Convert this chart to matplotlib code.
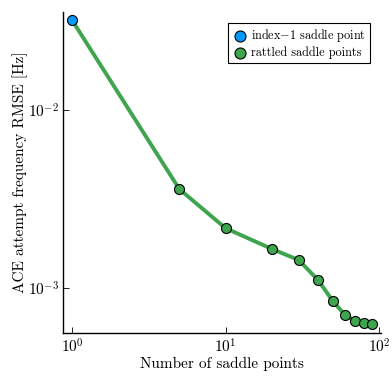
import matplotlib
matplotlib.use("Agg")
import matplotlib.pyplot as plt
from matplotlib.ticker import LogLocator, NullLocator

plt.rcParams['font.family'] = ['cmr10', 'DejaVu Serif']
plt.rcParams['mathtext.fontset'] = 'cm'
plt.rcParams['axes.formatter.use_mathtext'] = True

# data
n_saddle = [1, 5, 10, 20, 30, 40, 50, 60, 70, 80, 90]
rmse = [0.0321, 0.0036, 0.00217, 0.00166, 0.001436, 0.00111,
        0.000845, 0.000705, 0.000653, 0.000635, 0.000628]

blue = '#009AFA'
green = '#3EA44E'

fig = plt.figure(figsize=(3.92, 3.92), dpi=100)
ax = fig.add_axes([0.1607, 0.1505, 0.8113, 0.8185])

ax.plot(n_saddle, rmse, color=green, lw=2.8, zorder=2)
ax.scatter(n_saddle[1:], rmse[1:], s=52, color=green, edgecolor='black',
           linewidth=0.8, zorder=3, label='rattled saddle points')
ax.scatter(n_saddle[:1], rmse[:1], s=52, color=blue, edgecolor='black',
           linewidth=0.8, zorder=3, label='index$-$1 saddle point')

ax.set_xscale('log')
ax.set_yscale('log')
ax.set_xlim(10 ** -0.0586, 10 ** 2.013)
ax.set_ylim(10 ** -3.253, 10 ** -1.449)
ax.xaxis.set_major_locator(LogLocator(base=10, numticks=10))
ax.yaxis.set_major_locator(LogLocator(base=10, numticks=10))
ax.xaxis.set_minor_locator(NullLocator())
ax.yaxis.set_minor_locator(NullLocator())

for s in ['top', 'right']:
    ax.spines[s].set_visible(False)
for s in ['left', 'bottom']:
    ax.spines[s].set_linewidth(1.0)
ax.tick_params(direction='in', length=4, width=0.6, labelsize=11, pad=3)

ax.set_xlabel('Number of saddle points', fontsize=11, labelpad=1)
ax.set_ylabel('ACE attempt frequency RMSE [Hz]', fontsize=11, labelpad=0)

h, l = ax.get_legend_handles_labels()
leg = ax.legend(h[::-1], l[::-1], loc='upper right', fontsize=8.8,
                fancybox=False, edgecolor='black', framealpha=1,
                handletextpad=0.3, borderpad=0.35, labelspacing=0.15,
                handlelength=1.2, borderaxespad=0.9, markerscale=1.1)
leg.get_frame().set_linewidth(0.8)

fig.savefig('out.png', dpi=100)
